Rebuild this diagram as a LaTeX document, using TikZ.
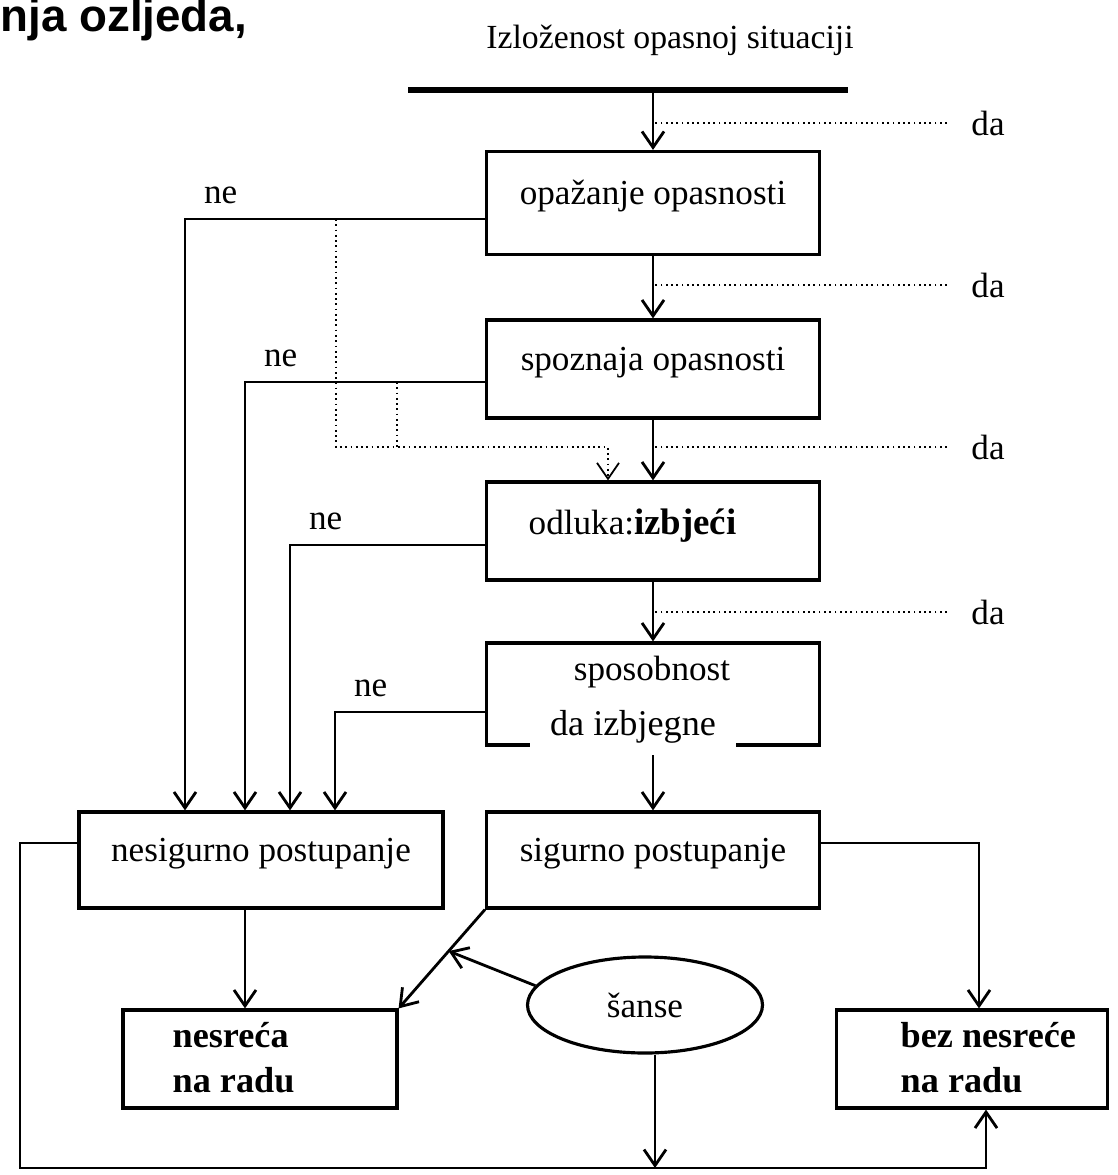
\documentclass[tikz,border=0pt]{standalone}
\usepackage{fontspec}
\setmainfont{Liberation Serif}
\newfontfamily\headfont{Liberation Sans}
\usetikzlibrary{arrows.meta, positioning, calc, shapes.geometric}

\begin{document}
\begin{tikzpicture}[x=0.1mm, y=-0.1mm, >={Straight Barb[length=1.6mm,width=2.2mm]},
    box/.style={draw, line width=0.9pt, minimum width=33.3mm, text height=7pt, text depth=6pt},
    conn/.style={line width=0.8pt},
    hint/.style={densely dotted, line width=0.5pt},
    bold/.style={font=\fontsize{10.3}{12.8}\selectfont\bfseries, align=left, inner sep=0pt}]
  \useasboundingbox (0,0) rectangle (1117,1175);

  \node[anchor=base west, inner sep=0pt, font=\headfont\bfseries\fontsize{13}{15}\selectfont] (head) at (0,32) {nja ozljeda,};
  \node[font=\fontsize{9.6}{11}\selectfont] (expo) at (670,40) {Izloženost opasnoj situaciji};
  \draw[line width=1.5pt] (408,90) coordinate (bl) -- (848,90) coordinate (br);

  \node[box, minimum height=10.3mm] (opaz) at (653,203) {opažanje opasnosti};
  \node[box, minimum height=9.8mm] (spoz) at (653,369) {spoznaja opasnosti};
  \node[box, minimum height=9.8mm] (odl) at (653,531) {};
  \node[box, minimum height=10.2mm] (spos) at (653,694) {};
  \node[box, minimum width=36.4mm, minimum height=9.6mm] (nesig) at (261,860) {nesigurno postupanje};
  \node[box, minimum height=9.6mm] (sig) at (653,860) {sigurno postupanje};
  \node[box, minimum width=27.4mm, minimum height=9.8mm] (nes) at (260,1059) {};
  \node[box, minimum width=27.1mm, minimum height=9.8mm] (bez) at (972,1059) {};
  \node[draw, ellipse, line width=0.9pt, minimum width=23.5mm, minimum height=9.6mm] (sanse) at (645,1005) {šanse};

  \node[anchor=base west, inner sep=0pt] (odltxt) at (528,535) {odluka:\textbf{\fontsize{10.5}{12}\selectfont izbjeći}};
  \node (spostxt) at (652,672) {sposobnost};
  \node[bold, anchor=west] (nestxt) at (172,1058) {nesreća\\na radu};
  \node[bold, anchor=west] (beztxt) at (900,1058) {bez nesreće\\na radu};

  \draw[conn,->] (bl -| opaz.north) -- (opaz.north);
  \draw[conn,->] (opaz) -- (spoz);
  \draw[conn,->] (spoz) -- (odl);
  \draw[conn,->] (odl) -- (spos);
  \draw[conn,->] (spos) -- (sig);
  \node[fill=white, inner xsep=2mm, inner ysep=1.2mm, font=\fontsize{10.3}{12}\selectfont] (izbtxt) at (633,727) {da izbjegne};

  \node (da1) at (988,123) {da};
  \node (da2) at (988,285) {da};
  \node (da3) at (988,447) {da};
  \node (da4) at (988,612) {da};
  \draw[hint, shorten <=1.2mm, shorten >=0.2mm] (da1.west) -- (da1.west -| opaz.north);
  \draw[hint, shorten <=1.2mm, shorten >=0.2mm] (da2.west) -- (da2.west -| opaz.north);
  \draw[hint, shorten <=1.2mm, shorten >=0.2mm] (da3.west) -- (da3.west -| opaz.north);
  \draw[hint, shorten <=1.2mm, shorten >=0.2mm] (da4.west) -- (da4.west -| opaz.north);

  \coordinate (n1) at (185,219);
  \coordinate (n2) at (245,382);
  \coordinate (n3) at (290,545);
  \coordinate (n4) at (335,712);
  \draw[conn,->] (n1 -| opaz.west) -- (n1) node[above right=0.6pt and 1.7pt] (ne1) {ne} -- (n1 |- nesig.north);
  \draw[conn,->] (n2 -| spoz.west) -- (n2) node[above right=0.6pt and 1.7pt] (ne2) {ne} -- (n2 |- nesig.north);
  \draw[conn,->] (n3 -| odl.west) -- (n3) node[above right=0.6pt and 1.7pt] (ne3) {ne} -- (n3 |- nesig.north);
  \draw[conn,->] (n4 -| spos.west) -- (n4) node[above right=0.6pt and 1.7pt] (ne4) {ne} -- (n4 |- nesig.north);

  \coordinate (h1) at (336,219);
  \coordinate (h2) at (397,382);
  \coordinate (hj) at (608,447);
  \draw[hint,->] (h1) |- (hj) -- (hj |- odl.north);
  \draw[hint] (h2) -- (h2 |- hj);

  \coordinate (lp) at (20,1168);
  \draw[conn,->] (nesig.south -| n2) -- (nes.north -| n2);
  \draw[conn,->] ([yshift=1.7mm]sig.east) -| ([xshift=0.7mm]bez.north);
  \draw[conn,->] ([yshift=1.7mm]nesig.west) -| (lp) -| ([xshift=1.4mm]bez.south);
  \draw[conn,->] ([xshift=1mm]sanse.south) -- ([xshift=1mm]sanse.south |- lp);
  \draw[conn,->] (sig.south west) -- (nes.north east);
  \draw[conn,->] (sanse.170) -- ($(sig.south west)!0.42!(nes.north east)$);
\end{tikzpicture}
\end{document}
